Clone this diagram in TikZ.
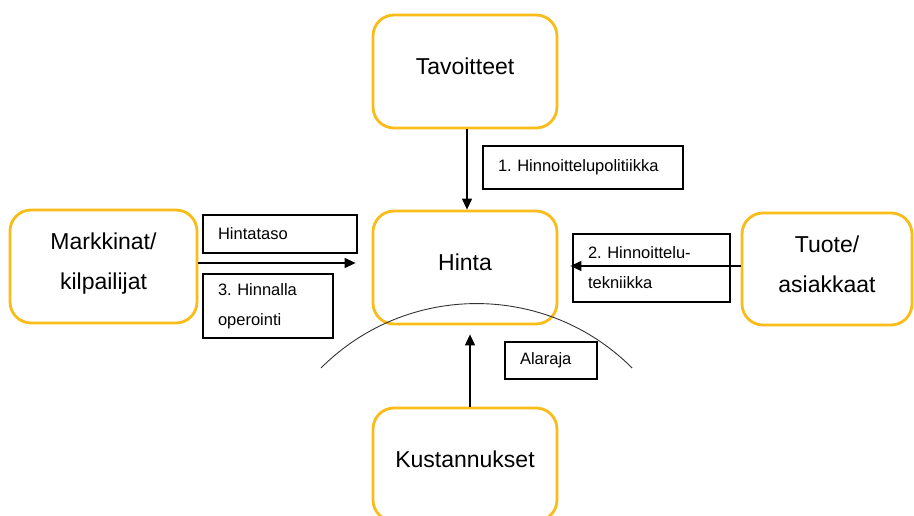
\documentclass[tikz,border=0pt]{standalone}
\usepackage{fontspec}
\setmainfont{Liberation Sans}
\frenchspacing
\usetikzlibrary{arrows.meta,calc}
\definecolor{gold}{RGB}{250,188,25}
\tikzset{
  bigbox/.style={draw=gold, line width=2.8pt, rounded corners=21pt, fill=white,
    align=center, font=\fontsize{23}{40}\selectfont, text depth=10pt, inner sep=0pt},
  smallbox/.style={draw=black, line width=1.2pt, align=left, inner xsep=15pt, inner ysep=0pt,
    font=\fontsize{16.5}{30}\selectfont},
  arr/.style={line width=1.2pt, -{Triangle[length=11pt,width=10pt]}}
}
\begin{document}
\begin{tikzpicture}[x=1pt,y=-1pt]
\useasboundingbox (0,0) rectangle (914,516);
\clip (0,0) rectangle (914,516);
\node[bigbox, minimum width=184pt, minimum height=113pt] (tav) at (465,71.5) {Tavoitteet};
\node[bigbox, minimum width=184pt, minimum height=113pt] (hinta) at (465,267.5) {Hinta};
\node[bigbox, minimum width=184pt, minimum height=113pt] (kust) at (465,464.5) {Kustannukset};
\node[bigbox, minimum width=187pt, minimum height=113pt] (mark) at (103.5,266.5) {Markkinat/\\kilpailijat};
\node[bigbox, minimum width=170pt, minimum height=112pt] (tuote) at (827,269) {Tuote/\\asiakkaat};
\draw[line width=0.9pt, black!80] (321,368) arc[start angle=-135, end angle=-45, radius=220];
\node[smallbox, text width=124pt, minimum height=38pt] (hts) at (280,234) {Hintataso};
\node[smallbox, text width=100pt, minimum height=64pt] (hop) at (268,306) {3. Hinnalla\\operointi};
\node[smallbox, text width=127pt, minimum height=68pt] (htk) at (651.5,268) {2. Hinnoittelu-\\tekniikka};
\node[smallbox, text width=170pt, minimum height=43pt] (hpol) at (583,167.5) {1. Hinnoittelupolitiikka};
\node[smallbox, text width=62pt, minimum height=37pt] (ala) at (551,360.5) {Alaraja};
\draw[arr] ([xshift=2pt]tav.south) -- ([xshift=2pt]hinta.north);
\draw[arr] ([xshift=5pt]kust.north) -- ([xshift=5pt,yshift=-9pt]hinta.south);
\draw[arr] ([yshift=3.5pt]mark.east) -- ([yshift=3.5pt,xshift=-16pt]mark.east -| hinta.west);
\draw[arr] ([yshift=3pt]tuote.west) -- ([yshift=3pt,xshift=12pt]tuote.west -| hinta.east);
\end{tikzpicture}
\end{document}
